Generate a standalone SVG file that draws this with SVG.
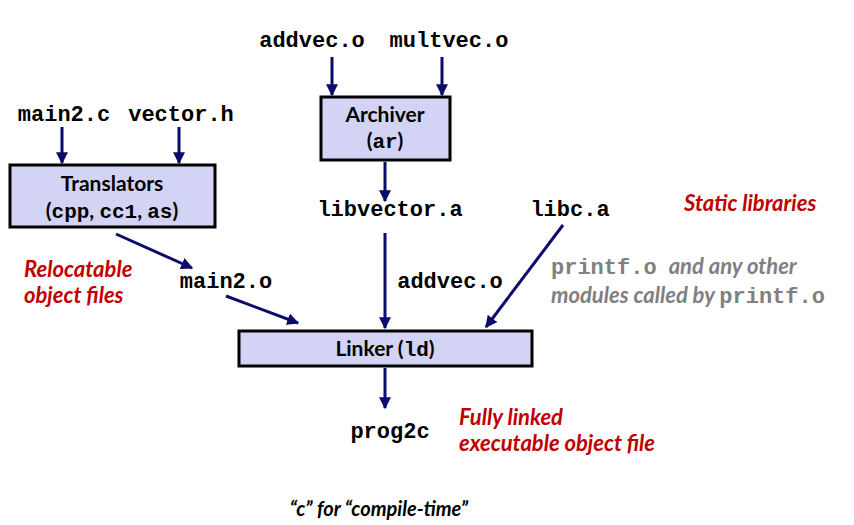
<svg xmlns="http://www.w3.org/2000/svg" width="854" height="525" viewBox="0 0 854 525">
<defs>
<marker id="ah" viewBox="0 0 10 10" refX="9" refY="5" markerWidth="4" markerHeight="4" orient="auto" markerUnits="strokeWidth">
<path d="M0,0 L10,5 L0,10 z" fill="#0b0b6b"/>
</marker>
<style>
.box{fill:#d3d3f5;stroke:#000;stroke-width:3}
.mono{font-family:"Liberation Mono","Courier New",monospace;font-weight:bold;font-size:22px;fill:#000}
.lbl{font-family:Lato,"Open Sans",sans-serif;font-weight:bold;font-size:21px;fill:#000}
.bm{font-family:"Liberation Mono",monospace;font-weight:bold;font-size:21px}
.red{font-family:Lato,"Open Sans",sans-serif;font-weight:bold;font-style:italic;font-size:22px;fill:#c00000}
.gray{font-family:Lato,"Open Sans",sans-serif;font-weight:bold;font-style:italic;font-size:22px;fill:#808080}
.gm{font-family:"Liberation Mono",monospace;font-weight:bold;font-style:normal;font-size:22px;fill:#808080}
.cn{stroke:#0b0b6b;stroke-width:3;fill:none;marker-end:url(#ah)}
</style>
</defs>
<rect width="854" height="525" fill="#fff"/>
<g id="connectors">
<line class="cn" x1="332" y1="57" x2="332" y2="95"/>
<line class="cn" x1="442" y1="57" x2="442" y2="95"/>
<line class="cn" x1="62" y1="127" x2="62" y2="163"/>
<line class="cn" x1="179" y1="127" x2="179" y2="163"/>
<line class="cn" x1="385" y1="162" x2="385" y2="201"/>
<line class="cn" x1="116" y1="234" x2="192" y2="268"/>
<line class="cn" x1="385" y1="233" x2="385" y2="328"/>
<line class="cn" x1="226" y1="296" x2="298" y2="323"/>
<line class="cn" x1="563" y1="225" x2="486" y2="327"/>
<line class="cn" x1="385" y1="368" x2="385" y2="408"/>
</g>
<g id="addvec-o"><text class="mono" x="312" y="47" text-anchor="middle">addvec.o</text></g>
<g id="multvec-o"><text class="mono" x="449" y="47" text-anchor="middle">multvec.o</text></g>
<g id="archiver">
<rect class="box" x="321" y="97" width="129" height="63"/>
<text class="lbl" x="385" y="122" text-anchor="middle">Archiver</text>
<text class="lbl" x="385" y="148" text-anchor="middle">(<tspan class="bm">ar</tspan>)</text>
</g>
<g id="main2-c"><text class="mono" x="64" y="121" text-anchor="middle">main2.c</text></g>
<g id="vector-h"><text class="mono" x="181" y="121" text-anchor="middle">vector.h</text></g>
<g id="translators">
<rect class="box" x="10" y="165" width="205" height="62"/>
<text class="lbl" x="112" y="191" text-anchor="middle">Translators</text>
<text class="lbl" x="112" y="218" text-anchor="middle">(<tspan class="bm">cpp</tspan>, <tspan class="bm">cc1</tspan>, <tspan class="bm">as</tspan>)</text>
</g>
<g id="libvector-a"><text class="mono" x="390" y="216" text-anchor="middle">libvector.a</text></g>
<g id="libc-a"><text class="mono" x="570" y="216" text-anchor="middle">libc.a</text></g>
<g id="static-libraries"><text class="red" x="684" y="211">Static libraries</text></g>
<g id="relocatable"><text class="red" x="24" y="277">Relocatable</text><text class="red" x="24" y="303">object files</text></g>
<g id="main2-o"><text class="mono" x="226" y="288" text-anchor="middle">main2.o</text></g>
<g id="addvec-o-2"><text class="mono" x="450" y="288" text-anchor="middle">addvec.o</text></g>
<g id="printf-note">
<text class="gray" x="551" y="274"><tspan class="gm">printf.o</tspan><tspan dx="12">and any other</tspan></text>
<text class="gray" x="551" y="303">modules called by <tspan class="gm">printf.o</tspan></text>
</g>
<g id="linker">
<rect class="box" x="239" y="331" width="293" height="35"/>
<text class="lbl" x="385" y="356" text-anchor="middle">Linker (<tspan class="bm">ld</tspan>)</text>
</g>
<g id="prog2c"><text class="mono" x="390" y="438" text-anchor="middle">prog2c</text></g>
<g id="fully-linked"><text class="red" x="459" y="425">Fully linked</text><text class="red" x="459" y="451">executable object file</text></g>
<g id="caption"><text x="379" y="516" text-anchor="middle" style="font-family:Lato,'Open Sans',sans-serif;font-weight:bold;font-style:italic;font-size:20px;fill:#000">“c” for “compile-time”</text></g>
</svg>
